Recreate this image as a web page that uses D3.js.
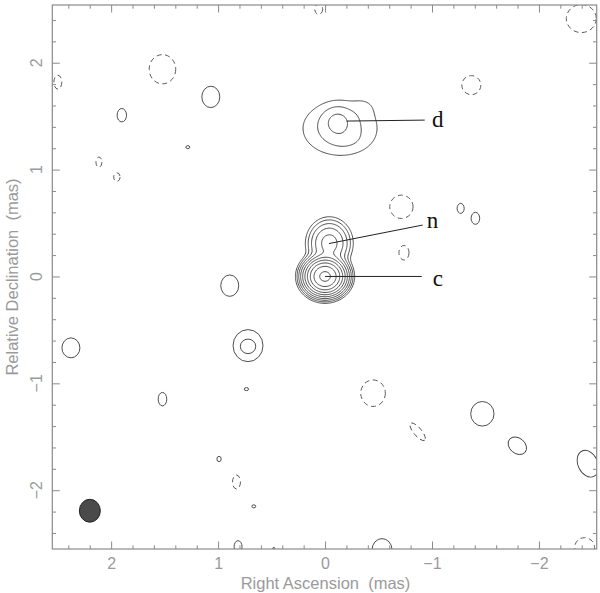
<!DOCTYPE html>
<html>
<head>
<meta charset="utf-8">
<script src="https://d3js.org/d3.v7.min.js"></script>
<style>
  body { margin: 0; background: #fff; }
</style>
</head>
<body>
<svg id="map" width="600" height="593"></svg>
<script>

// axis ranges (mas), RA runs right to left
var raRange  = [2.55, -2.54];
var decRange = [2.54, -2.55];
var majorTicks = [-2, -1, 0, 1, 2];
var minorTicks = [-2.4, -2.2, -1.8, -1.6, -1.4, -1.2, -0.8, -0.6, -0.4, -0.2,
                  0.2, 0.4, 0.6, 0.8, 1.2, 1.4, 1.6, 1.8, 2.2, 2.4];

// gaussian components of the source (peak in units of the lowest contour)
var compName   = ["c", "n", "d", "d halo", "d knot", "d tail"];
var compRA     = [0, -0.04, -0.117, -0.14, -0.37, -0.2];
var compDec    = [0, 0.31, 1.445, 1.385, 1.59, 1.28];
var compPeak   = [630, 22, 3.1, 2.6, 0.45, 0.5];
var compSigRA  = [0.077, 0.09, 0.08, 0.25, 0.08, 0.1];
var compSigDec = [0.070, 0.10, 0.08, 0.18, 0.07, 0.06];

var levels = [1, 2, 4, 8, 16, 32, 64, 128, 256, 512];

// small noise contours: [ra, dec, rx, ry, angle]
var posBlobs = [
  [1.068, 1.680, 0.084, 0.100, 0],
  [1.900, 1.509, 0.044, 0.063, 0],
  [0.891, -0.086, 0.084, 0.100, 0],
  [2.376, -0.668, 0.084, 0.093, 0],
  [0.720, -0.647, 0.140, 0.150, 0],
  [0.720, -0.654, 0.072, 0.068, 0],
  [1.520, -1.148, 0.040, 0.063, 0],
  [-1.268, 0.637, 0.033, 0.047, 0],
  [-1.406, 0.544, 0.040, 0.056, 0],
  [-1.471, -1.285, 0.109, 0.115, 0],
  [-1.798, -1.584, 0.095, 0.072, 40],
  [-2.458, -1.752, 0.093, 0.131, -25],
  [-0.533, -2.556, 0.093, 0.103, 0],
  [0.991, -1.708, 0.020, 0.025, 0],
  [0.735, -1.054, 0.020, 0.014, 0],
  [1.283, 1.210, 0.018, 0.014, 0],
  [0.666, -2.151, 0.018, 0.014, 0],
  [0.813, -2.528, 0.037, 0.056, 0],
  [0.479, -2.544, 0.010, 0.008, 0]
];
var negBlobs = [
  [1.520, 1.939, 0.124, 0.137, 0],
  [2.498, 1.818, 0.037, 0.065, 0],
  [-0.714, 0.652, 0.109, 0.109, 0],
  [-0.738, 0.222, 0.047, 0.068, 0],
  [-1.368, 1.790, 0.089, 0.089, 0],
  [-0.449, -1.092, 0.115, 0.124, 0],
  [-0.866, -1.453, 0.103, 0.037, 50],
  [-2.396, 2.413, 0.140, 0.131, 0],
  [0.059, 2.500, 0.037, 0.047, 0],
  [-2.427, -2.537, 0.093, 0.093, 0],
  [2.114, 1.070, 0.028, 0.047, 0],
  [1.946, 0.930, 0.030, 0.040, 0],
  [0.828, -1.923, 0.037, 0.065, 0]
];

// restoring beam [ra, dec, rx, ry]
var beam = [2.199, -2.192, 0.098, 0.107];

// component labels and leader lines
var labelText   = ["d", "n", "c"];
var labelRA     = [-1.054, -1.004, -1.054];
var labelDec    = [1.397, 0.453, -0.089];
var leaderRA0   = [-0.202, -0.037, 0];
var leaderDec0  = [1.454, 0.308, 0];
var leaderRA1   = [-0.932, -0.913, -0.904];
var leaderDec1  = [1.463, 0.481, 0];


var svg = d3.select("#map");
var pLeft = 52.3, pRight = 596.7, pTop = 5, pBottom = 549;

var x = d3.scaleLinear().domain(raRange).range([pLeft, pRight]);
var y = d3.scaleLinear().domain(decRange).range([pTop, pBottom]);
var sx = function(v){ return Math.abs(x(v) - x(0)); };
var sy = function(v){ return Math.abs(y(v) - y(0)); };

svg.append("clipPath").attr("id", "frameclip")
  .append("rect")
  .attr("x", pLeft).attr("y", pTop)
  .attr("width", pRight - pLeft).attr("height", pBottom - pTop);

var plot = svg.append("g").attr("clip-path", "url(#frameclip)");

// model grid for the main components
var step = 0.01;
var raMin = -0.8, decMin = -0.5;
var nx = 151, ny = 241;
var grid = new Float64Array(nx * ny);
for (var j = 0; j < ny; j++){
  for (var i = 0; i < nx; i++){
    var ra = raMin + i*step, dec = decMin + j*step;
    var v = 0;
    for (var k = 0; k < compName.length; k++){
      var dx = (ra - compRA[k]) / compSigRA[k];
      var dy = (dec - compDec[k]) / compSigDec[k];
      v += compPeak[k] * Math.exp(-0.5*(dx*dx + dy*dy));
    }
    grid[i + j*nx] = v;
  }
}

var contourSet = d3.contours().size([nx, ny]).thresholds(levels)(grid);

var toSky = d3.geoTransform({
  point: function(gx, gy){
    this.stream.point(x(raMin + (gx - 0.5)*step), y(decMin + (gy - 0.5)*step));
  }
});
var skyPath = d3.geoPath(toSky);

plot.selectAll("path.level")
  .data(contourSet)
  .enter()
  .append("path")
  .attr("class", "level")
  .attr("d", skyPath)
  .attr("fill", "none")
  .attr("stroke", "#3a3a3a")
  .attr("stroke-width", 0.9);

plot.selectAll("ellipse.pos")
  .data(posBlobs)
  .enter()
  .append("ellipse")
  .attr("class", "pos")
  .attr("transform", function(d){ return "translate(" + x(d[0]) + "," + y(d[1]) + ") rotate(" + d[4] + ")"; })
  .attr("rx", function(d){ return sx(d[2]); })
  .attr("ry", function(d){ return sy(d[3]); })
  .attr("fill", "none")
  .attr("stroke", "#3a3a3a")
  .attr("stroke-width", 0.9);

plot.selectAll("ellipse.neg")
  .data(negBlobs)
  .enter()
  .append("ellipse")
  .attr("class", "neg")
  .attr("transform", function(d){ return "translate(" + x(d[0]) + "," + y(d[1]) + ") rotate(" + d[4] + ")"; })
  .attr("rx", function(d){ return sx(d[2]); })
  .attr("ry", function(d){ return sy(d[3]); })
  .attr("fill", "none")
  .attr("stroke", "#4a4a4a")
  .attr("stroke-width", 0.9)
  .attr("stroke-dasharray", "5,3.5");

plot.append("ellipse")
  .attr("cx", x(beam[0])).attr("cy", y(beam[1]))
  .attr("rx", sx(beam[2])).attr("ry", sy(beam[3]))
  .attr("fill", "#4a4a4a")
  .attr("stroke", "#222")
  .attr("stroke-width", 1);

// leader lines and labels
svg.selectAll("line.leader")
  .data(labelText)
  .enter()
  .append("line")
  .attr("class", "leader")
  .attr("x1", function(d, i){ return x(leaderRA0[i]); })
  .attr("y1", function(d, i){ return y(leaderDec0[i]); })
  .attr("x2", function(d, i){ return x(leaderRA1[i]); })
  .attr("y2", function(d, i){ return y(leaderDec1[i]); })
  .attr("stroke", "#222")
  .attr("stroke-width", 1);

svg.selectAll("text.comp")
  .data(labelText)
  .enter()
  .append("text")
  .attr("class", "comp")
  .attr("x", function(d, i){ return x(labelRA[i]); })
  .attr("y", function(d, i){ return y(labelDec[i]); })
  .attr("text-anchor", "middle")
  .attr("font-family", "'Liberation Serif', 'Times New Roman', serif")
  .attr("font-size", "23px")
  .attr("fill", "#111")
  .text(function(d){ return d; });

// axes: ticks inward on all four sides
var axisColor = "#8a8a8a";
function styleAxis(g){
  g.select(".domain").remove();
  g.selectAll(".tick line").attr("stroke", axisColor).attr("stroke-width", 1);
  g.selectAll(".tick text")
    .attr("fill", "#9a9a9a")
    .attr("font-family", "'Liberation Sans', Arial, sans-serif")
    .attr("font-size", "16px");
}

svg.append("g").attr("transform", "translate(0," + pBottom + ")")
  .call(d3.axisBottom(x).tickValues(majorTicks).tickSize(-7.5).tickPadding(9).tickFormat(d3.format("d")))
  .call(styleAxis);
svg.append("g").attr("transform", "translate(0," + pBottom + ")")
  .call(d3.axisBottom(x).tickValues(minorTicks).tickSize(-3.7).tickFormat(""))
  .call(styleAxis);
svg.append("g").attr("transform", "translate(0," + pTop + ")")
  .call(d3.axisTop(x).tickValues(majorTicks).tickSize(-7.5).tickFormat(""))
  .call(styleAxis);
svg.append("g").attr("transform", "translate(0," + pTop + ")")
  .call(d3.axisTop(x).tickValues(minorTicks).tickSize(-3.7).tickFormat(""))
  .call(styleAxis);

svg.append("g").attr("transform", "translate(" + pLeft + ",0)")
  .call(d3.axisLeft(y).tickValues(majorTicks).tickSize(-7.5).tickFormat(""))
  .call(styleAxis);
svg.append("g").attr("transform", "translate(" + pLeft + ",0)")
  .call(d3.axisLeft(y).tickValues(minorTicks).tickSize(-3.7).tickFormat(""))
  .call(styleAxis);
svg.append("g").attr("transform", "translate(" + pRight + ",0)")
  .call(d3.axisRight(y).tickValues(majorTicks).tickSize(-7.5).tickFormat(""))
  .call(styleAxis);
svg.append("g").attr("transform", "translate(" + pRight + ",0)")
  .call(d3.axisRight(y).tickValues(minorTicks).tickSize(-3.7).tickFormat(""))
  .call(styleAxis);

// rotated declination tick labels
svg.selectAll("text.declab")
  .data(majorTicks)
  .enter()
  .append("text")
  .attr("class", "declab")
  .attr("transform", function(d){ return "translate(" + (pLeft - 10) + "," + y(d) + ") rotate(-90)"; })
  .attr("text-anchor", "middle")
  .attr("fill", "#9a9a9a")
  .attr("font-family", "'Liberation Sans', Arial, sans-serif")
  .attr("font-size", "16px")
  .text(d3.format("d"));

svg.append("rect")
  .attr("x", pLeft).attr("y", pTop)
  .attr("width", pRight - pLeft).attr("height", pBottom - pTop)
  .attr("fill", "none")
  .attr("stroke", axisColor)
  .attr("stroke-width", 1.2);

svg.append("text")
  .attr("x", (pLeft + pRight) / 2 + 1)
  .attr("y", 589)
  .attr("text-anchor", "middle")
  .attr("fill", "#9a9a9a")
  .attr("font-family", "'Liberation Sans', Arial, sans-serif")
  .attr("font-size", "16.5px")
  .style("white-space", "pre")
  .text("Right Ascension  (mas)");

svg.append("text")
  .attr("transform", "translate(18," + ((pTop + pBottom) / 2) + ") rotate(-90)")
  .attr("text-anchor", "middle")
  .attr("fill", "#9a9a9a")
  .attr("font-family", "'Liberation Sans', Arial, sans-serif")
  .attr("font-size", "16.5px")
  .style("white-space", "pre")
  .text("Relative Declination  (mas)");

</script>
</body>
</html>
